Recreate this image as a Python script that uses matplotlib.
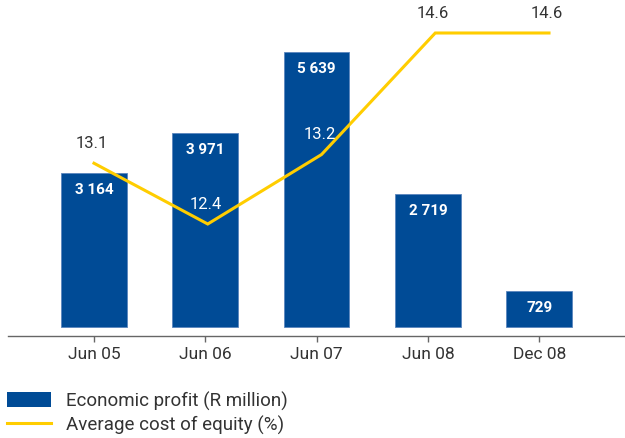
import matplotlib
matplotlib.use("Agg")
import matplotlib.pyplot as plt
from matplotlib.patches import Rectangle
from matplotlib.lines import Line2D
import numpy as np

categories = ["Jun 05", "Jun 06", "Jun 07", "Jun 08", "Dec 08"]
profit = [3164, 3971, 5639, 2719, 729]
profit_labels = ["3 164", "3 971", "5 639", "2 719", "729"]
coe = [13.1, 12.4, 13.2, 14.6, 14.6]
coe_labels = ["13.1", "12.4", "13.2", "14.6", "14.6"]

BLUE = "#004b96"
YELLOW = "#ffcd00"
GREY = "#333333"
AXIS = "#666666"
FONT = ["Roboto", "DejaVu Sans"]
plt.rcParams["font.family"] = FONT

W, H = 625, 438
DPI = 100
fig = plt.figure(figsize=(W / DPI, H / DPI), dpi=DPI)

def fx(x):
    return x / W

def fy(y):
    return 1 - y / H

# axes in pixel layout
ax_left, ax_right, ax_top, ax_bottom = 8, 625, 10, 336
ax = fig.add_axes([fx(ax_left), fy(ax_bottom), (ax_right - ax_left) / W, (ax_bottom - ax_top) / H])

x = np.arange(len(categories))
spacing_px = 111.3
x0_px = 94
upp = 5639 / 275.0  # units per pixel (bars)
base_px = 327
ax.set_xlim(-(x0_px - ax_left) / spacing_px, (ax_right - x0_px) / spacing_px)
ax.set_ylim(-(ax_bottom - base_px) * upp, (base_px - ax_top) * upp)

ax.bar(x, profit, width=0.59, color=BLUE, edgecolor="#5b86bd", linewidth=0.6, zorder=2)
for xi, v, lab in zip(x, profit, profit_labels):
    ax.annotate(lab, (xi, v), xytext=(0, -17 * 72 / DPI), textcoords="offset points",
                ha="center", va="center", color="white", fontsize=11, fontweight="bold", zorder=5)

for s in ["top", "left", "right"]:
    ax.spines[s].set_visible(False)
ax.spines["bottom"].set_color(AXIS)
ax.spines["bottom"].set_linewidth(1.0)
ax.set_yticks([])
ax.set_xticks(x)
ax.set_xticklabels(categories, fontsize=12.5, color=GREY)
ax.tick_params(axis="x", length=4.5, width=1.0, color=AXIS, pad=3.5)

# secondary axis for cost of equity
ax2 = ax.twinx()
ppu = 191 / 2.2  # pixels per unit
ax2.set_ylim(12.4 - (ax_bottom - 224) / ppu, 14.6 + (33 - ax_top) / ppu)
for s in ax2.spines.values():
    s.set_visible(False)
ax2.set_yticks([])
xl = x * (113.75 / spacing_px)
ax2.plot(xl, coe, color=YELLOW, linewidth=2.2, solid_joinstyle="miter", zorder=3)
label_colors = [GREY, "white", "white", GREY, GREY]
for xi, v, lab, c in zip(xl, coe, coe_labels, label_colors):
    ax2.annotate(lab, (xi, v), xytext=(-2 * 72 / DPI, 20 * 72 / DPI), textcoords="offset points",
                 ha="center", va="center", color=c, fontsize=12)

# legend drawn in figure pixel coordinates
fig.patches.append(Rectangle((fx(7), fy(407)), 44 / W, 15 / H, transform=fig.transFigure,
                             facecolor=BLUE, edgecolor="none"))
fig.lines.append(Line2D([fx(7), fx(51)], [fy(423), fy(423)], transform=fig.transFigure,
                        color=YELLOW, linewidth=2.2))
fig.text(fx(66), fy(401), "Economic profit (R million)", ha="left", va="center",
         fontsize=13.5, color=GREY)
fig.text(fx(66), fy(425), "Average cost of equity (%)", ha="left", va="center",
         fontsize=13.5, color=GREY)

fig.savefig("out.png", dpi=DPI)
